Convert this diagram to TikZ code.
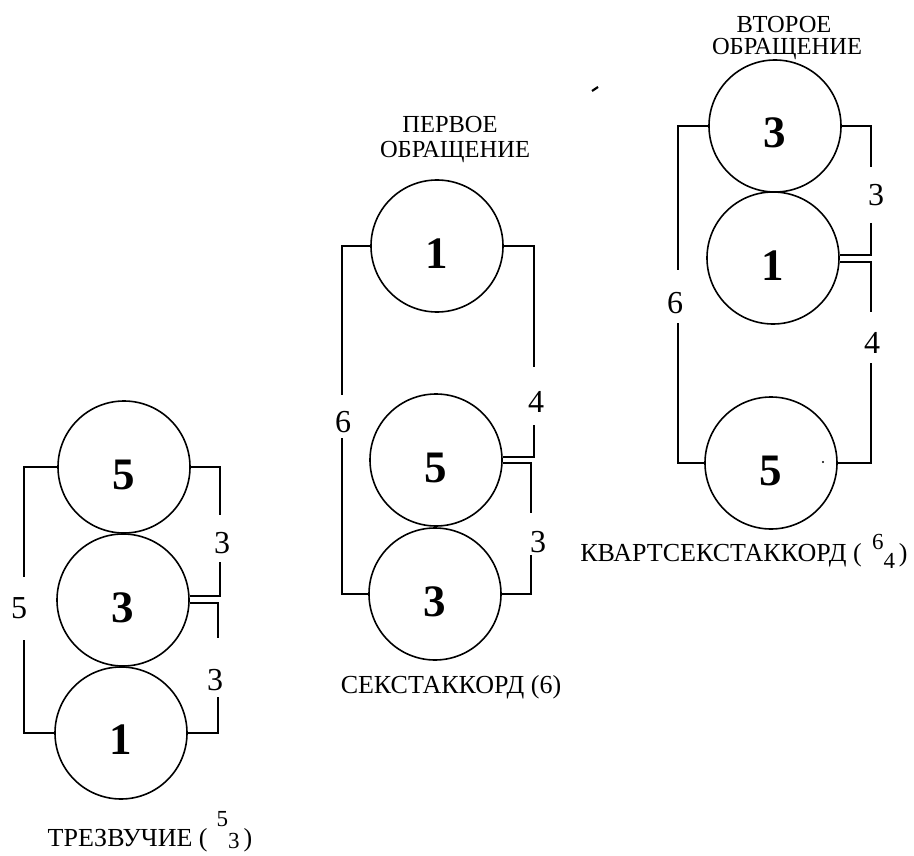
\documentclass[tikz,border=0pt]{standalone}
\usepackage{fontspec}
\setmainfont{Liberation Serif}
\usetikzlibrary{calc}
\newcommand{\stackdig}[4]{\raisebox{#3}{\fontsize{23}{23}\selectfont #1}\raisebox{#4}{\fontsize{23}{23}\selectfont #2}}
\begin{document}
\begin{tikzpicture}[x=1pt,y=-1pt,
  ring/.style={circle,draw,line width=1.6pt,minimum size=132pt,inner sep=0pt},
  bk/.style={line width=1.5pt},
  deg/.style={font=\fontsize{45}{45}\selectfont\bfseries,inner sep=0pt},
  ivl/.style={font=\fontsize{32}{32}\selectfont,inner sep=0pt},
  ttl/.style={font=\fontsize{24.5}{24.5}\selectfont,anchor=base,inner sep=0pt},
  chordcap/.style={font=\fontsize{26}{26}\selectfont,anchor=base,inner sep=0pt}]
\useasboundingbox (0,0) rectangle (914,856);

% ---------- column 1: triad ----------
\node[ring] (A5) at (124,467) {};
\node[ring] (A3) at (123,600) {};
\node[ring] (A1) at (121,733) {};
\node[deg] (dA5) at (124,475) {5};
\node[deg] (dA3) at (123,608) {3};
\node[deg] (dA1) at (121,740) {1};
\coordinate (a1) at (24,577); \coordinate (a2) at (24,640);
\coordinate (a3) at (220,515); \coordinate (a4) at (220,562);
\coordinate (a5) at (218,638); \coordinate (a6) at (218,697);
\draw[bk] (A5.west) -| (a1);
\draw[bk] (a2) |- (A1.west);
\draw[bk] (A5.east) -| (a3);
\draw[bk] (a4) |- ($(A3.east)+(0,-4)$);
\draw[bk] ($(A3.east)+(0,3)$) -| (a5);
\draw[bk] (a6) |- (A1.east);
\node[ivl] (iA5) at (19,608) {5};
\node[ivl] (iA3a) at (222,543) {3};
\node[ivl] (iA3b) at (215,680) {3};
\node[chordcap] (tA) at (150,846) {ТРЕЗВУЧИЕ (\hspace{0.35em}\stackdig{5}{3}{0.75em}{-0.1em}\hspace{0.15em})};

% ---------- column 2: sixth chord ----------
\node[ring] (B1) at (437,246) {};
\node[ring] (B5) at (436,460) {};
\node[ring] (B3) at (435,594) {};
\node[deg] (dB1) at (437,254) {1};
\node[deg] (dB5) at (436,468) {5};
\node[deg] (dB3) at (435,602) {3};
\coordinate (b1) at (342,395); \coordinate (b2) at (342,438);
\coordinate (b3) at (534,367); \coordinate (b4) at (534,425);
\coordinate (b5) at (531,513); \coordinate (b6) at (531,555);
\draw[bk] (B1.west) -| (b1);
\draw[bk] (b2) |- (B3.west);
\draw[bk] (B1.east) -| (b3);
\draw[bk] (b4) |- ($(B5.east)+(0,-3)$);
\draw[bk] ($(B5.east)+(0,3)$) -| (b5);
\draw[bk] (b6) |- (B3.east);
\node[ivl] (iB6) at (343,422) {6};
\node[ivl] (iB4) at (536,402) {4};
\node[ivl] (iB3) at (538,542) {3};
\node[ttl] (hB1) at (450,133) {ПЕРВОЕ};
\node[ttl] (hB2) at (455,158) {ОБРАЩЕНИЕ};
\node[chordcap] (tB) at (451,693) {СЕКСТАККОРД (6)};

% ---------- column 3: six-four chord ----------
\node[ring] (C3) at (775,126) {};
\node[ring] (C1) at (773,258) {};
\node[ring] (C5) at (771,463) {};
\node[deg] (dC3) at (775,133) {3};
\node[deg] (dC1) at (773,266) {1};
\node[deg] (dC5) at (771,471) {5};
\coordinate (c1) at (678,270); \coordinate (c2) at (678,323);
\coordinate (c3) at (871,167); \coordinate (c4) at (871,223);
\coordinate (c5) at (871,312); \coordinate (c6) at (871,363);
\draw[bk] (C3.west) -| (c1);
\draw[bk] (c2) |- (C5.west);
\draw[bk] (C3.east) -| (c3);
\draw[bk] (c4) |- ($(C1.east)+(0,-3)$);
\draw[bk] ($(C1.east)+(0,4)$) -| (c5);
\draw[bk] (c6) |- (C5.east);
\node[ivl] (iC6) at (675,303) {6};
\node[ivl] (iC3) at (876,195) {3};
\node[ivl] (iC4) at (872,343) {4};
\node[ttl] (hC1) at (784,33) {ВТОРОЕ};
\node[ttl] (hC2) at (787,55) {ОБРАЩЕНИЕ};
\node[chordcap] (tC) at (744,561) {КВАРТСЕКСТАККОРД (\hspace{0.4em}\stackdig{6}{4}{0.45em}{-0.27em}\hspace{0.15em})};

% scan specks
\draw[line width=2.2pt] (592,91) -- (598,87);
\fill (823,462) circle (1.1pt);
\end{tikzpicture}
\end{document}
